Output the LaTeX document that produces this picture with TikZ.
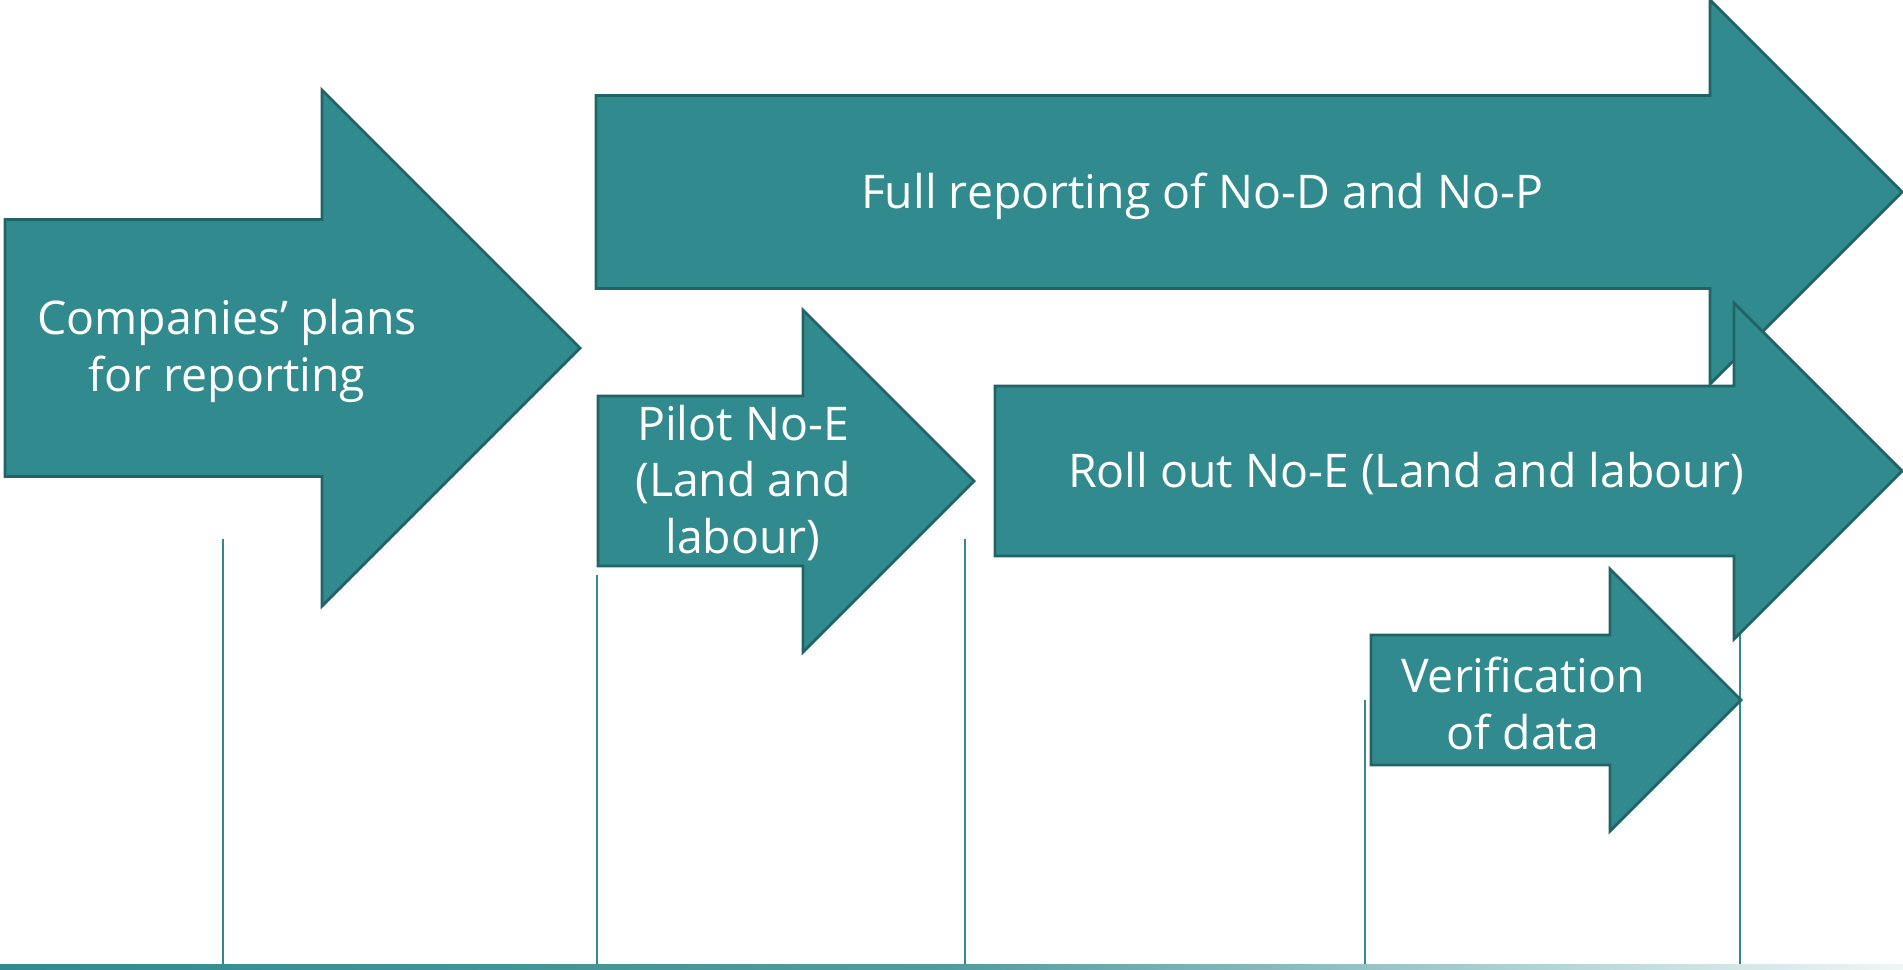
\documentclass[tikz,border=0pt]{standalone}
\usepackage{fontspec}
\setmainfont{Open Sans}
\usetikzlibrary{positioning}
\definecolor{teal1}{RGB}{49,139,142}
\definecolor{teal2}{RGB}{33,100,104}
\tikzset{
    phase/.style={fill=teal1, draw=teal2, line width=0.8pt, line join=miter},
    lbl/.style={text=white, align=center, font=\fontsize{13.2}{16.2}\selectfont, inner sep=0pt},
    tick/.style={draw=teal1, line width=0.6pt}
}
% arrow with 45 degree head: left x, head base x, centre y, shaft half height, head half height
\newcommand{\phasearrow}[5]{%
    \filldraw[phase] (#1,#3-#4) -- (#2,#3-#4) -- (#2,#3-#5) -- (#2+#5,#3)
        -- (#2,#3+#5) -- (#2,#3+#4) -- (#1,#3+#4) -- cycle;
}

\begin{document}
\begin{tikzpicture}[x=0.01cm, y=-0.01cm]
    \useasboundingbox (0,0) rectangle (1903,969);

    % Timeline markers
    \foreach \x/\y in {223/539, 597/575, 965/539, 1365/700, 1740/630}
        \draw[tick] (\x,\y) -- (\x,966);

    % Base line
    \shade[left color=teal1, right color=teal1!8, middle color=teal1!85] (0,964.5) rectangle (1903,969);

    % Phase arrows
    \phasearrow{5}{322}{348}{128.5}{258}
    \phasearrow{596}{1710}{192}{96.5}{192}
    \phasearrow{598}{803}{481}{85}{171}
    \phasearrow{995}{1734}{471}{85}{168}
    \phasearrow{1371}{1610}{700}{65}{131}

    % Labels
    \node[lbl] (PLANS) at (227,351) {Companies’ plans\\for reporting};
    \node[lbl] (FULL) at (1202,196) {Full reporting of No-D and No-P};
    \node[lbl] (PILOT) at (743,483) {Pilot No-E\\(Land and\\labour)};
    \node[lbl] (ROLL) at (1406,474) {Roll out No-E (Land and labour)};
    \node[lbl] (VERIFY) at (1523,703) {Verification\\of data};
\end{tikzpicture}
\end{document}
